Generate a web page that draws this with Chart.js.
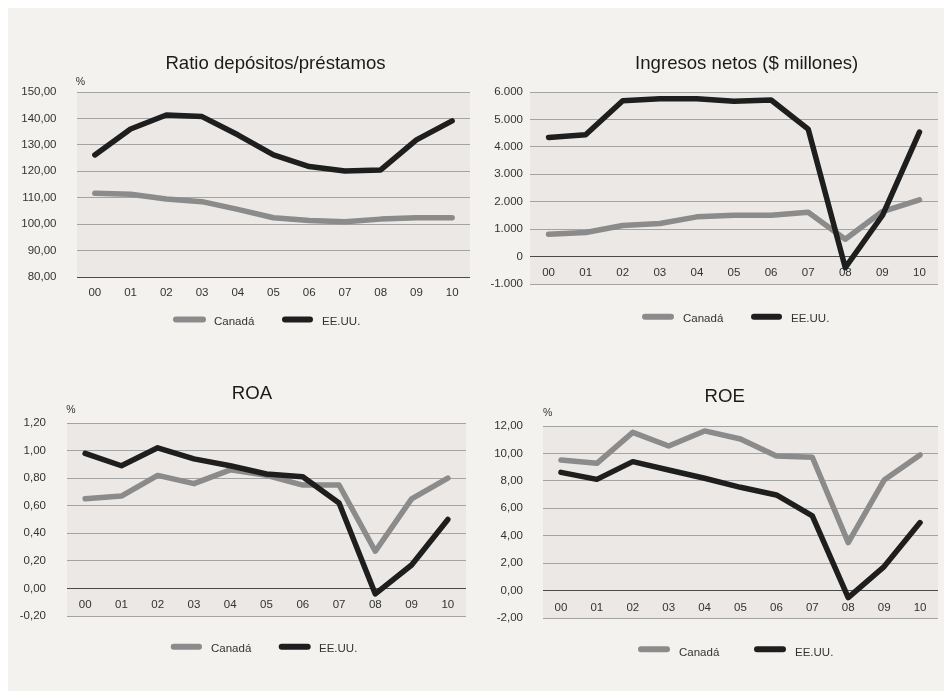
<!DOCTYPE html>
<html>
<head>
<meta charset="utf-8">
<script src="https://cdn.jsdelivr.net/npm/chart.js@4.4.1/dist/chart.umd.min.js"></script>
<style>
  html, body { margin: 0; padding: 0; background: #ffffff; width: 944px; height: 691px; overflow: hidden; }
  #panel { position: absolute; left: 8px; top: 8px; width: 936px; height: 683px; background: #f3f2ef; }
  canvas { position: absolute; }
</style>
</head>
<body>
<div id="panel"></div>
<canvas id="ratio"></canvas>
<canvas id="ingresos"></canvas>
<canvas id="roa"></canvas>
<canvas id="roe"></canvas>
<script>
// Years on the horizontal axis and the two series shown in every panel
const years = ['00', '01', '02', '03', '04', '05', '06', '07', '08', '09', '10'];
const seriesNames = ['Canadá', 'EE.UU.'];

// Ratio depósitos/préstamos (%)
const ratioCanada = [111.7, 111.3, 109.5, 108.5, 105.6, 102.4, 101.4, 100.9, 101.9, 102.4, 102.4];
const ratioEEUU   = [126.2, 136.0, 141.3, 140.7, 133.8, 126.2, 121.8, 120.1, 120.5, 131.9, 139.1];

// Ingresos netos ($ millones)
const ingresosCanada = [815, 876, 1132, 1205, 1448, 1509, 1509, 1619, 633, 1643, 2069];
const ingresosEEUU   = [4345, 4442, 5683, 5756, 5756, 5659, 5708, 4649, -402, 1497, 4539];

// ROA (%)
const roaCanada = [0.65, 0.67, 0.82, 0.76, 0.86, 0.82, 0.75, 0.75, 0.27, 0.65, 0.80];
const roaEEUU   = [0.98, 0.89, 1.02, 0.94, 0.89, 0.83, 0.81, 0.62, -0.04, 0.17, 0.50];

// ROE (%)
const roeCanada = [9.52, 9.28, 11.54, 10.54, 11.64, 11.05, 9.81, 9.72, 3.50, 8.06, 9.89];
const roeEEUU   = [8.62, 8.11, 9.40, 8.79, 8.19, 7.53, 6.97, 5.44, -0.51, 1.75, 4.96];

// Axis ranges and tick steps
const ratioAxis    = { min: 80, max: 150, step: 10 };
const ingresosAxis = { min: -1000, max: 6000, step: 1000 };
const roaAxis      = { min: -0.2, max: 1.2, step: 0.2 };
const roeAxis      = { min: -2, max: 12, step: 2 };

const FONT = "'Liberation Sans', Arial, Helvetica, sans-serif";
const GRAY = '#8b8b8b';
const BLACK = '#1e1e1e';
const GRID = '#a3a3a3';
const BASE_LINE = '#4a4a4a';
const PLOT_BG = '#ebe8e5';

Chart.defaults.font.family = FONT;

// Number formats (Spanish style: comma decimals, dot thousands)
const fmtDecimal = v => (Math.abs(v) < 1e-9 ? 0 : v).toFixed(2).replace('.', ',');
const fmtThousands = v => {
  const r = Math.round(v);
  const s = Math.abs(r).toString().replace(/\B(?=(\d{3})+(?!\d))/g, '.');
  return (r < 0 ? '-' : '') + s;
};

// Draws the plot background, the panel title, the unit label and a line legend
const panelText = {
  id: 'panelText',
  beforeDraw(chart, args, o) {
    const { ctx, chartArea: a } = chart;
    ctx.save();
    ctx.fillStyle = o.plotBg;
    ctx.fillRect(a.left, a.top, a.right - a.left, a.bottom - a.top);
    ctx.restore();
  },
  afterDraw(chart, args, o) {
    const ctx = chart.ctx;
    ctx.save();
    // title
    ctx.fillStyle = '#1b1b1b';
    ctx.font = `18.6px ${FONT}`;
    ctx.textAlign = 'center';
    ctx.textBaseline = 'alphabetic';
    ctx.fillText(o.title.text, o.title.x, o.title.y);
    // unit
    if (o.unit) {
      ctx.font = `10.5px ${FONT}`;
      ctx.fillStyle = '#333333';
      ctx.textBaseline = 'middle';
      ctx.fillText(o.unit.text, o.unit.x, o.unit.y);
    }
    // legend
    const lg = o.legend;
    chart.data.datasets.forEach((ds, i) => {
      const it = lg.items[i];
      ctx.strokeStyle = ds.borderColor;
      ctx.lineWidth = 6;
      ctx.lineCap = 'round';
      ctx.beginPath();
      ctx.moveTo(it.x1 + 3, lg.lineY);
      ctx.lineTo(it.x2 - 3, lg.lineY);
      ctx.stroke();
      ctx.fillStyle = '#333333';
      ctx.font = `11.5px ${FONT}`;
      ctx.textAlign = 'left';
      ctx.textBaseline = 'alphabetic';
      ctx.fillText(ds.label, it.tx, lg.textY);
    });
    ctx.restore();
  }
};

function makePanel(id, p) {
  const cv = document.getElementById(id);
  cv.width = p.box.w;
  cv.height = p.box.h;
  cv.style.left = p.box.x + 'px';
  cv.style.top = p.box.y + 'px';
  const ox = p.box.x, oy = p.box.y;
  const yAxisWidth = p.plot.l - ox;
  const padTop = p.plot.t - oy;
  const padRight = ox + p.box.w - p.plot.r;
  const padBottom = oy + p.box.h - p.plot.b;

  const lineStyle = {
    borderWidth: 5.5,
    pointRadius: 0,
    tension: 0,
    borderCapStyle: 'round',
    borderJoinStyle: 'round',
    fill: false
  };

  new Chart(cv, {
    type: 'line',
    data: {
      labels: years,
      datasets: [
        Object.assign({ label: seriesNames[0], data: p.canada, borderColor: GRAY, backgroundColor: GRAY, order: 2 }, lineStyle),
        Object.assign({ label: seriesNames[1], data: p.eeuu, borderColor: BLACK, backgroundColor: BLACK, order: 1 }, lineStyle)
      ]
    },
    options: {
      responsive: false,
      animation: false,
      events: [],
      layout: { padding: { left: 0, top: padTop, right: padRight, bottom: padBottom } },
      plugins: {
        legend: { display: false },
        tooltip: { enabled: false },
        panelText: {
          plotBg: PLOT_BG,
          title: { text: p.title, x: p.titleX - ox, y: p.titleY - oy },
          unit: p.unit ? { text: '%', x: p.unit.x - ox, y: p.unit.y - oy } : null,
          legend: {
            lineY: p.legend.lineY - oy,
            textY: p.legend.textY - oy,
            items: p.legend.items.map(it => ({ x1: it[0] - ox, x2: it[1] - ox, tx: it[2] - ox }))
          }
        }
      },
      scales: {
        x: {
          position: { y: p.axis.base },
          offset: true,
          grid: { display: false },
          border: { display: false },
          ticks: { color: '#333333', font: { size: 11.5 }, padding: p.xPad, maxRotation: 0, autoSkip: false }
        },
        y: {
          min: p.axis.min,
          max: p.axis.max,
          border: { display: false },
          grid: {
            drawTicks: false,
            lineWidth: 1,
            color: c => Math.abs(c.tick.value - p.axis.base) < 1e-9 ? BASE_LINE : GRID
          },
          ticks: {
            stepSize: p.axis.step,
            padding: p.yPad,
            color: '#333333',
            font: { size: 11.5 },
            callback: v => p.fmt(v)
          },
          afterFit: s => { s.width = yAxisWidth; }
        }
      }
    },
    plugins: [panelText]
  });
}

makePanel('ratio', {
  box: { x: 8, y: 8, w: 468, h: 342 },
  plot: { l: 77, t: 92, r: 470, b: 277 },
  axis: Object.assign({ base: 80 }, ratioAxis),
  fmt: fmtDecimal,
  canada: ratioCanada, eeuu: ratioEEUU,
  title: 'Ratio depósitos/préstamos', titleX: 275.5, titleY: 69.3,
  unit: { x: 80.5, y: 82 },
  xPad: 1, yPad: 20.5,
  legend: { lineY: 319.5, textY: 325.3, items: [[173, 206, 214], [282, 313, 322]] }
});

makePanel('ingresos', {
  box: { x: 476, y: 8, w: 468, h: 342 },
  plot: { l: 530, t: 92, r: 938, b: 284 },
  axis: Object.assign({ base: 0 }, ingresosAxis),
  fmt: fmtThousands,
  canada: ingresosCanada, eeuu: ingresosEEUU,
  title: 'Ingresos netos ($ millones)', titleX: 746.7, titleY: 68.7,
  unit: null,
  xPad: 1, yPad: 7,
  legend: { lineY: 316.7, textY: 321.7, items: [[642, 674, 683], [751, 782, 791]] }
});

makePanel('roa', {
  box: { x: 8, y: 350, w: 468, h: 341 },
  plot: { l: 67, t: 423, r: 466, b: 616 },
  axis: Object.assign({ base: 0 }, roaAxis),
  fmt: fmtDecimal,
  canada: roaCanada, eeuu: roaEEUU,
  title: 'ROA', titleX: 252, titleY: 399.3,
  unit: { x: 71, y: 410 },
  xPad: 1, yPad: 21,
  legend: { lineY: 646.7, textY: 652.3, items: [[170.7, 202, 211], [278.7, 310.7, 319]] }
});

makePanel('roe', {
  box: { x: 476, y: 350, w: 468, h: 341 },
  plot: { l: 543, t: 426, r: 938, b: 618 },
  axis: Object.assign({ base: 0 }, roeAxis),
  fmt: fmtDecimal,
  canada: roeCanada, eeuu: roeEEUU,
  title: 'ROE', titleX: 724.7, titleY: 402.3,
  unit: { x: 547.7, y: 413.3 },
  xPad: 2, yPad: 20,
  legend: { lineY: 649.3, textY: 655.7, items: [[638, 670, 679], [754, 786, 795]] }
});
</script>
</body>
</html>
